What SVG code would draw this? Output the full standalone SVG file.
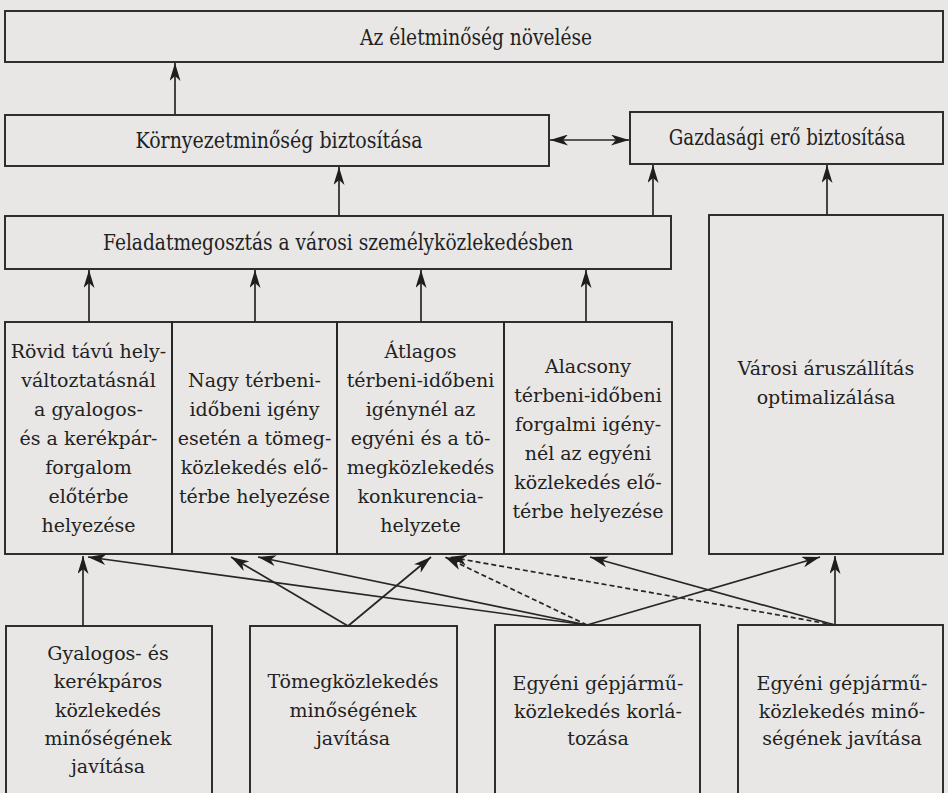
<svg xmlns="http://www.w3.org/2000/svg" width="948" height="793" viewBox="0 0 948 793">
<style>
.bx{fill:none;stroke:#262626;stroke-width:1.9}
.t{font-family:"DejaVu Serif","Liberation Serif",serif;font-size:19px;fill:#222;text-anchor:middle}
.tc{font-family:"DejaVu Serif","Liberation Serif",serif;font-size:22px;fill:#222;text-anchor:middle}
.c{fill:none;stroke:#262626;stroke-width:1.7;marker-end:url(#ah)}
.d{stroke-dasharray:5 3}
</style>
<defs>
<marker id="ah" viewBox="0 0 18 11" refX="18" refY="5.5" markerWidth="18" markerHeight="11" markerUnits="userSpaceOnUse" orient="auto-start-reverse">
<path d="M0,0 L18,5.5 L0,11 L5,5.5 z" fill="#1e1e1e"/>
</marker>
</defs>
<rect width="948" height="793" fill="#e8e7e5"/>

<g id="n-eletminoseg">
<rect class="bx" x="5" y="11" width="938" height="51"/>
<text class="tc" x="476" y="45" textLength="232" lengthAdjust="spacingAndGlyphs">Az életminőség növelése</text>
</g>
<g id="n-kornyezet">
<rect class="bx" x="5" y="115" width="544" height="51"/>
<text class="tc" x="279" y="148" textLength="287" lengthAdjust="spacingAndGlyphs">Környezetminőség biztosítása</text>
</g>
<g id="n-gazdasagi">
<rect class="bx" x="630" y="112" width="313" height="52"/>
<text class="tc" transform="translate(787,145) scale(0.83,1)" x="0" y="0">Gazdasági erő biztosítása</text>
</g>
<g id="n-feladat">
<rect class="bx" x="5" y="216" width="666" height="53"/>
<text class="tc" x="338" y="250" textLength="470" lengthAdjust="spacingAndGlyphs">Feladatmegosztás a városi személyközlekedésben</text>
</g>

<g id="n-rovid">
<rect class="bx" x="5" y="322" width="167" height="232"/>
<text class="t" x="88.5" y="358">Rövid távú hely-</text>
<text class="t" x="88.5" y="387">változtatásnál</text>
<text class="t" x="88.5" y="416">a gyalogos-</text>
<text class="t" x="88.5" y="445">és a kerékpár-</text>
<text class="t" x="88.5" y="474">forgalom</text>
<text class="t" x="88.5" y="503">előtérbe</text>
<text class="t" x="88.5" y="532">helyezése</text>
</g>
<g id="n-nagy">
<rect class="bx" x="172" y="322" width="165" height="232"/>
<text class="t" x="254.5" y="387">Nagy térbeni-</text>
<text class="t" x="254.5" y="416">időbeni igény</text>
<text class="t" x="254.5" y="445">esetén a tömeg-</text>
<text class="t" x="254.5" y="474">közlekedés elő-</text>
<text class="t" x="254.5" y="503">térbe helyezése</text>
</g>
<g id="n-atlagos">
<rect class="bx" x="337" y="322" width="167" height="232"/>
<text class="t" x="420.5" y="358">Átlagos</text>
<text class="t" x="420.5" y="387">térbeni-időbeni</text>
<text class="t" x="420.5" y="416">igénynél az</text>
<text class="t" x="420.5" y="445">egyéni és a tö-</text>
<text class="t" x="420.5" y="474">megközlekedés</text>
<text class="t" x="420.5" y="503">konkurencia-</text>
<text class="t" x="420.5" y="532">helyzete</text>
</g>
<g id="n-alacsony">
<rect class="bx" x="504" y="322" width="168" height="232"/>
<text class="t" x="588" y="373">Alacsony</text>
<text class="t" x="588" y="402">térbeni-időbeni</text>
<text class="t" x="588" y="431">forgalmi igény-</text>
<text class="t" x="588" y="460">nél az egyéni</text>
<text class="t" x="588" y="489">közlekedés elő-</text>
<text class="t" x="588" y="518">térbe helyezése</text>
</g>
<g id="n-varosi">
<rect class="bx" x="709" y="215" width="234" height="339"/>
<text class="t" x="826" y="375">Városi áruszállítás</text>
<text class="t" x="826" y="404">optimalizálása</text>
</g>

<g id="n-gyalogos">
<rect class="bx" x="6" y="626" width="206" height="180"/>
<text class="t" x="108" y="660">Gyalogos- és</text>
<text class="t" x="108" y="688">kerékpáros</text>
<text class="t" x="108" y="717">közlekedés</text>
<text class="t" x="108" y="745">minőségének</text>
<text class="t" x="108" y="773">javítása</text>
</g>
<g id="n-tomeg">
<rect class="bx" x="250" y="626" width="207" height="180"/>
<text class="t" x="353" y="688">Tömegközlekedés</text>
<text class="t" x="353" y="717">minőségének</text>
<text class="t" x="353" y="745">javítása</text>
</g>
<g id="n-korlatozas">
<rect class="bx" x="495" y="625" width="205" height="180"/>
<text class="t" x="598" y="690">Egyéni gépjármű-</text>
<text class="t" x="598" y="718">közlekedés korlá-</text>
<text class="t" x="598" y="745">tozása</text>
</g>
<g id="n-egyeni-javitas">
<rect class="bx" x="738" y="625" width="205" height="180"/>
<text class="t" x="842" y="690">Egyéni gépjármű-</text>
<text class="t" x="842" y="718">közlekedés minő-</text>
<text class="t" x="842" y="745">ségének javítása</text>
</g>

<g id="connectors">
<line class="c" x1="175" y1="115" x2="175" y2="63"/>
<line class="c" x1="550" y1="140" x2="629" y2="140" style="marker-start:url(#ah)"/>
<line class="c" x1="339" y1="216" x2="339" y2="167"/>
<line class="c" x1="653" y1="216" x2="653" y2="165"/>
<line class="c" x1="827" y1="215" x2="827" y2="165"/>
<line class="c" x1="89" y1="322" x2="89" y2="270"/>
<line class="c" x1="255" y1="322" x2="255" y2="270"/>
<line class="c" x1="421" y1="322" x2="421" y2="270"/>
<line class="c" x1="586" y1="322" x2="586" y2="270"/>
<line class="c" x1="83" y1="626" x2="83" y2="556"/>
<line class="c" x1="348" y1="626" x2="231" y2="557"/>
<line class="c" x1="348" y1="626" x2="431" y2="557"/>
<line class="c" x1="587" y1="625" x2="88" y2="557"/>
<line class="c" x1="587" y1="625" x2="258" y2="557"/>
<line class="c d" x1="587" y1="625" x2="445" y2="557"/>
<line class="c" x1="587" y1="625" x2="820" y2="557"/>
<line class="c d" x1="835" y1="625" x2="449" y2="557"/>
<line class="c" x1="835" y1="625" x2="590" y2="557"/>
<line class="c" x1="835" y1="625" x2="835" y2="556"/>
</g>
</svg>
